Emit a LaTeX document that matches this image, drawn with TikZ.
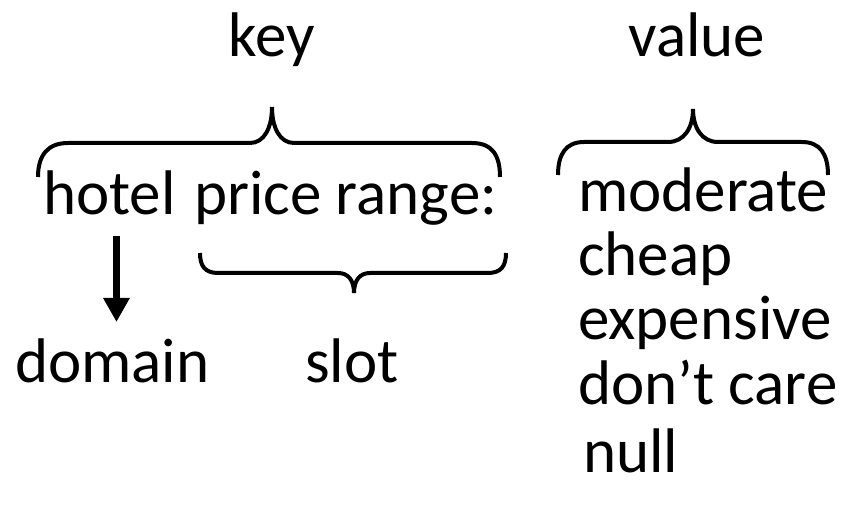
\documentclass[tikz,border=0pt]{standalone}
\usepackage{fontspec}
\setmainfont{Carlito}
\usetikzlibrary{arrows.meta,calc}
\begin{document}
\begin{tikzpicture}[x=1pt,y=-1pt,
  lbl/.style={inner sep=0pt,anchor=base west,font=\fontsize{63}{76}\selectfont},
  brace/.style={line width=4pt,line cap=butt},
  arr/.style={line width=7pt,-{Triangle[width=25pt,length=24pt]}}]
\useasboundingbox (0,0) rectangle (846,518);
% texts
\node[lbl,anchor=base] (key) at (272,57) {key};
\node[lbl,anchor=base] (value) at (697,57) {value};
\node[lbl] (hotel) at (43,215) {hotel};
\node[lbl] (price) at (194,215) {price range:};
\node[lbl] (domain) at (15,383) {domain};
\node[lbl] (slot) at (305,383) {slot};
\node[lbl] (v1) at (578,212) {moderate};
\node[lbl] (v2) at (578,276) {cheap};
\node[lbl] (v3) at (578,340) {expensive};
\node[lbl] (v4) at (578,404) {don’t care};
\node[lbl] (v5) at (583,472) {null};
% key brace
\draw[brace] (38,177) .. controls (38,155) and (48,143) .. (68,143) -- (250,143)
  .. controls (264,143) and (272,128) .. (272,107)
  .. controls (272,128) and (280,143) .. (294,143) -- (472,143)
  .. controls (492,143) and (500,155) .. (500,177);
% value brace
\draw[brace] (558,175) .. controls (558,154) and (566,142) .. (584,142) -- (668,142)
  .. controls (684,142) and (693,128) .. (693,109)
  .. controls (693,128) and (702,142) .. (718,142) -- (802,142)
  .. controls (820,142) and (828,154) .. (828,175);
% slot brace
\draw[brace] (200,253) .. controls (200,266) and (205,273) .. (218,273) -- (338,273)
  .. controls (348,273) and (354,280) .. (354,293)
  .. controls (354,280) and (360,273) .. (370,273) -- (488,273)
  .. controls (501,273) and (506,266) .. (506,253);
% arrow
\draw[arr] ($(hotel.base)+(7,21)$) -- ($(hotel.base |- domain.base)+(7,-61)$);
\end{tikzpicture}
\end{document}
